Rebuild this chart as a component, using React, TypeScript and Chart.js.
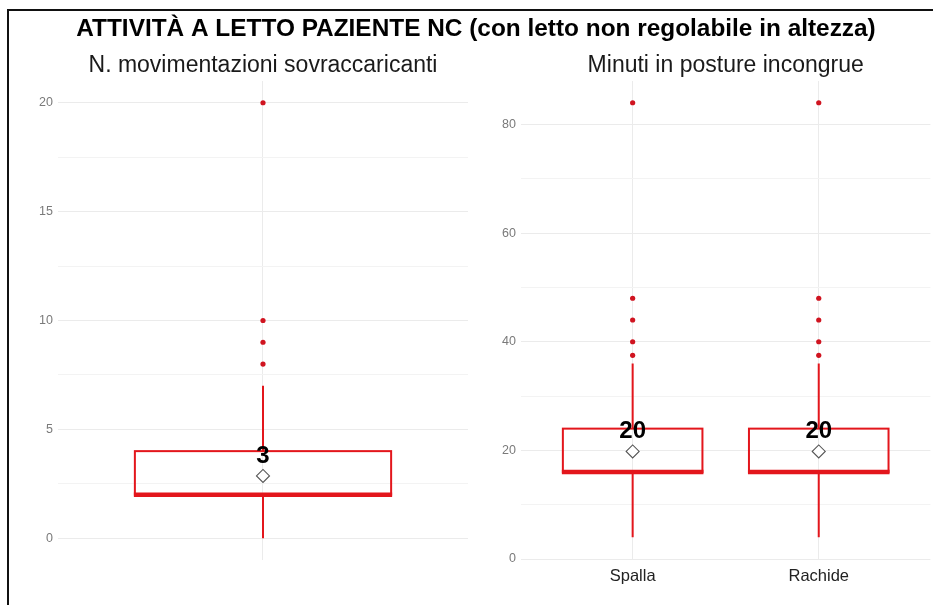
import React, { useEffect, useRef } from 'react';
import { Chart, registerables } from 'chart.js';

Chart.register(...registerables);

const FONT = '"Liberation Sans", Arial, sans-serif';

const mainTitle = 'ATTIVITÀ A LETTO PAZIENTE NC (con letto non regolabile in altezza)';
const leftTitle = 'N. movimentazioni sovraccaricanti';
const rightTitle = 'Minuti in posture incongrue';

// Left panel: N. movimentazioni sovraccaricanti
const leftCategories = [''];
const leftQ1 = [2];
const leftMedian = [2];
const leftQ3 = [4];
const leftWhiskerLow = [0];
const leftWhiskerHigh = [7];
const leftMean = [2.86];
const leftOutliers = [[8, 9, 10, 20]];
const leftYTicks = [0, 2.5, 5, 7.5, 10, 12.5, 15, 17.5, 20];
const leftYMajorStep = 5;
const leftYRange = [-1, 21];

// Right panel: Minuti in posture incongrue
const rightCategories = ['Spalla', 'Rachide'];
const rightQ1 = [16, 16];
const rightMedian = [16, 16];
const rightQ3 = [24, 24];
const rightWhiskerLow = [4, 4];
const rightWhiskerHigh = [36, 36];
const rightMean = [19.8, 19.8];
const rightOutliers = [
  [37.5, 40, 44, 48, 84],
  [37.5, 40, 44, 48, 84],
];
const rightYTicks = [0, 10, 20, 30, 40, 50, 60, 70, 80];
const rightYMajorStep = 20;
const rightYRange = [0, 88];

const RED = '#e3161c';
const POINT_RED = '#d01420';

type Panel = {
  categories: string[];
  q1: number[];
  median: number[];
  q3: number[];
  lo: number[];
  hi: number[];
  mean: number[];
  outliers: number[][];
  yTicks: number[];
  majorStep: number;
  yRange: number[];
  padding: { left: number; top: number; right: number; bottom: number };
  yAxisWidth: number;
  subtitle: string;
  drawMain: boolean;
};

function makeChart(canvas: HTMLCanvasElement, p: Panel) {
  const boxPlugin = {
    id: 'boxes',
    beforeDatasetsDraw(chart: any) {
      const { ctx, scales } = chart;
      const x = scales.x;
      const y = scales.y;
      ctx.save();
      ctx.strokeStyle = RED;
      ctx.lineCap = 'butt';
      p.categories.forEach((_, i) => {
        const cx = x.getPixelForValue(i + 1);
        const hw = x.getPixelForValue(i + 1 + 0.375) - cx;
        // whiskers
        ctx.lineWidth = 2;
        ctx.beginPath();
        ctx.moveTo(cx, y.getPixelForValue(p.lo[i]));
        ctx.lineTo(cx, y.getPixelForValue(p.q1[i]));
        ctx.moveTo(cx, y.getPixelForValue(p.q3[i]));
        ctx.lineTo(cx, y.getPixelForValue(p.hi[i]));
        ctx.stroke();
        // box
        const top = y.getPixelForValue(p.q3[i]);
        const bot = y.getPixelForValue(p.q1[i]);
        ctx.strokeRect(cx - hw, top, 2 * hw, bot - top);
        // median
        ctx.lineWidth = 4.5;
        ctx.beginPath();
        ctx.moveTo(cx - hw - 1, y.getPixelForValue(p.median[i]));
        ctx.lineTo(cx + hw + 1, y.getPixelForValue(p.median[i]));
        ctx.stroke();
      });
      ctx.restore();
    },
    afterDatasetsDraw(chart: any) {
      const { ctx, scales } = chart;
      const x = scales.x;
      const y = scales.y;
      ctx.save();
      ctx.fillStyle = '#000';
      ctx.font = `bold 24px ${FONT}`;
      ctx.textAlign = 'center';
      ctx.textBaseline = 'alphabetic';
      p.mean.forEach((m, i) => {
        const cx = x.getPixelForValue(i + 1);
        const my = y.getPixelForValue(m);
        ctx.fillText(String(Math.round(m)), cx, my - 13);
      });
      ctx.restore();
    },
    afterDraw(chart: any) {
      const { ctx, chartArea } = chart;
      ctx.save();
      ctx.textAlign = 'center';
      ctx.textBaseline = 'alphabetic';
      ctx.fillStyle = '#1a1a1a';
      ctx.font = `23px ${FONT}`;
      ctx.fillText(p.subtitle, (chartArea.left + chartArea.right) / 2, 72);
      if (p.drawMain) {
        ctx.fillStyle = '#000';
        ctx.font = `bold 24.4px ${FONT}`;
        ctx.fillText(mainTitle, 476, 36);
        ctx.fillStyle = '#111';
        ctx.fillRect(7, 9, 2, 596);
        ctx.fillRect(7, 9, 926, 2);
      }
      ctx.restore();
    },
  };

  return new Chart(canvas, {
    type: 'scatter',
    data: {
      datasets: [
        {
          label: 'outliers',
          data: p.outliers.flatMap((arr, i) => arr.map((v) => ({ x: i + 1, y: v }))),
          pointRadius: 2.6,
          pointBackgroundColor: POINT_RED,
          pointBorderWidth: 0,
          showLine: false,
        },
        {
          label: 'mean',
          data: p.mean.map((m, i) => ({ x: i + 1, y: m })),
          pointStyle: 'rectRot',
          pointRadius: 6.5,
          pointBackgroundColor: '#ffffff',
          pointBorderColor: '#555555',
          pointBorderWidth: 1.1,
          showLine: false,
        },
      ],
    },
    options: {
      animation: false,
      responsive: false,
      devicePixelRatio: 1,
      events: [],
      layout: { padding: p.padding },
      plugins: {
        legend: { display: false },
        tooltip: { enabled: false },
        title: { display: false },
      },
      scales: {
        x: {
          type: 'linear',
          min: 0.4,
          max: p.categories.length + 0.6,
          afterBuildTicks: (s: any) => {
            s.ticks = p.categories.map((_, i) => ({ value: i + 1 }));
          },
          afterFit: (s: any) => {
            s.height = 30;
          },
          ticks: {
            autoSkip: false,
            maxRotation: 0,
            padding: 8,
            color: '#222',
            font: { size: 16.5, family: FONT },
            callback: (v: any) => p.categories[Number(v) - 1] ?? '',
          },
          grid: { color: '#ebebeb', lineWidth: 1, drawTicks: false },
          border: { display: false },
        },
        y: {
          type: 'linear',
          min: p.yRange[0],
          max: p.yRange[1],
          afterBuildTicks: (s: any) => {
            s.ticks = p.yTicks.map((v) => ({ value: v }));
          },
          afterFit: (s: any) => {
            s.width = p.yAxisWidth;
          },
          ticks: {
            autoSkip: false,
            padding: 5,
            color: '#7a7a7a',
            font: { size: 12.5, family: FONT },
            callback: (v: any) => (Number(v) % p.majorStep === 0 ? String(v) : ''),
          },
          grid: {
            color: (c: any) =>
              c.tick && c.tick.value % p.majorStep === 0 ? '#ebebeb' : '#f3f3f3',
            lineWidth: 1,
            drawTicks: false,
          },
          border: { display: false },
        },
      },
    } as any,
    plugins: [boxPlugin],
  });
}

export default function App() {
  const leftRef = useRef<HTMLCanvasElement>(null);
  const rightRef = useRef<HTMLCanvasElement>(null);

  useEffect(() => {
    const left = makeChart(leftRef.current!, {
      categories: leftCategories,
      q1: leftQ1,
      median: leftMedian,
      q3: leftQ3,
      lo: leftWhiskerLow,
      hi: leftWhiskerHigh,
      mean: leftMean,
      outliers: leftOutliers,
      yTicks: leftYTicks,
      majorStep: leftYMajorStep,
      yRange: leftYRange,
      padding: { left: 0, top: 81, right: 465, bottom: 15 },
      yAxisWidth: 58,
      subtitle: leftTitle,
      drawMain: true,
    });
    const right = makeChart(rightRef.current!, {
      categories: rightCategories,
      q1: rightQ1,
      median: rightMedian,
      q3: rightQ3,
      lo: rightWhiskerLow,
      hi: rightWhiskerHigh,
      mean: rightMean,
      outliers: rightOutliers,
      yTicks: rightYTicks,
      majorStep: rightYMajorStep,
      yRange: rightYRange,
      padding: { left: 470, top: 81, right: 2, bottom: 16 },
      yAxisWidth: 51,
      subtitle: rightTitle,
      drawMain: false,
    });
    return () => {
      left.destroy();
      right.destroy();
    };
  }, []);

  const canvasStyle: React.CSSProperties = { position: 'absolute', left: 0, top: 0 };
  return (
    <div
      style={{
        position: 'absolute',
        left: 0,
        top: 0,
        width: 933,
        height: 605,
        background: '#ffffff',
        overflow: 'hidden',
      }}
    >
      <canvas ref={leftRef} width={933} height={605} style={canvasStyle} />
      <canvas ref={rightRef} width={938} height={605} style={canvasStyle} />
    </div>
  );
}
